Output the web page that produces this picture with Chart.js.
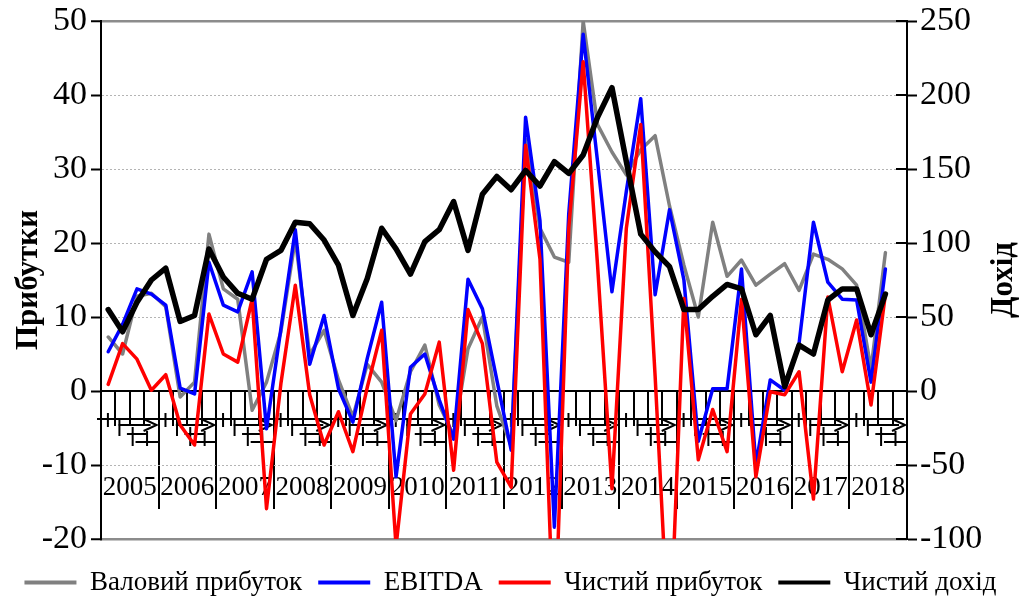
<!DOCTYPE html>
<html>
<head>
<meta charset="utf-8">
<script src="https://cdn.jsdelivr.net/npm/chart.js@4/dist/chart.umd.min.js"></script>
<style>
html,body{margin:0;padding:0;background:#fff}
</style>
</head>
<body>
<canvas id="c" width="1021" height="606"></canvas>
<script>
// years and quarters of the category axis
const years = ["2005","2006","2007","2008","2009","2010","2011","2012","2013","2014","2015","2016","2017","2018"]
const quarters = ["I","II","III","IV"]

// left axis, billions
const grossProfit = [7.3,5.0,12.8,13.2,11.4, -0.8,1.2,21.2,13.8,12.4, -2.6,1.2,8.0,20.5,4.9, 8.2,1.5,-3.5,3.6,1.2,
  -4.0,2.6,6.2,-1.9,-6.0, 5.7,10.0,-2.0,-7.5,34.0, 22.0,18.1,17.4,50.0,36.0, 32.3,29.2,32.6,34.5,25.0,
  17.0,10.0,22.8,15.5,17.7, 14.3,15.8,17.2,13.6,18.5, 17.8,16.5,14.3,3.0,18.7]
const ebitda = [5.3,9.0,13.8,13.1,11.6, 0.4,-0.4,17.4,11.6,10.7, 16.1,-5.1,8.4,21.8,3.6, 10.2,0.3,-4.2,4.4,12.0,
  -11.6,3.2,5.0,-1.2,-6.5, 15.1,11.1,1.5,-8.0,37.0, 23.0,-18.4,24.0,48.2,31.0, 13.4,27.0,39.5,13.0,24.5,
  15.0,-6.8,0.3,0.3,16.5, -10.0,1.5,0.1,6.4,22.8, 14.7,12.4,12.3,1.2,16.5]
const netProfit = [0.9,6.4,4.3,0.1,2.2, -4.6,-7.3,10.4,5.0,3.9, 12.4,-15.9,1.0,14.3,-0.5, -7.3,-2.8,-8.2,0.5,8.2,
  -21,-3.1,-0.4,6.6,-10.7, 11.0,6.4,-9.6,-13.0,33.2, 17.8,-35,22,44.5,17, -13.2,22,36,2,-36,
  12.5,-9.3,-2.5,-8.2,12.4, -11.6,-0.1,-0.5,2.6,-14.6, 12.7,2.6,9.6,-1.9,13.1]
// right axis
const netRevenue = [55,40,60,75,83, 47,51,96,77,66, 62,89,95,114,113, 102,85,51,76,110,
  96,79,101,109,128, 95,133,145,136,149, 138.5,155,147,159.5,185, 205,155,106,94,84,
  55,55,64,72,69, 38,51,3,31,25, 61.5,69,69,38,65.5]

const quarterLabels = []
years.forEach(y => quarters.forEach(q => quarterLabels.push(q + " кв. " + y)))

Chart.defaults.font.family = "'Liberation Serif', 'Times New Roman', serif"
Chart.defaults.color = "#000"

// axis decorations: garbled quarter captions, inner right ticks, right title
const axisDecor = {
  id: "axisDecor",
  beforeDatasetsDraw(chart){
    const {ctx, chartArea, scales} = chart
    const yr = scales.x2
    const y0 = scales.y.getPixelForValue(0)
    const w = (chartArea.right - chartArea.left) / years.length
    ctx.save()
    ctx.strokeStyle = "#000"
    ctx.lineWidth = 2
    years.forEach((_, i) => {
      const s = yr.getPixelForValue(i) - w/2
      ctx.beginPath()
      ctx.moveTo(s - 4, y0 + 28); ctx.lineTo(s + w - 3, y0 + 28)
      ctx.moveTo(s + w - 15, y0 + 28); ctx.lineTo(s + w - 2, y0 + 34); ctx.lineTo(s + w - 15, y0 + 40)
      ctx.moveTo(s + 0.3*w, y0 + 34); ctx.lineTo(s + w - 8, y0 + 34)
      ctx.moveTo(s + 0.45*w, y0 + 43); ctx.lineTo(s + 0.8*w, y0 + 43)
      ctx.moveTo(s + 0.6*w, y0 + 51); ctx.lineTo(s + w, y0 + 51)
      ctx.moveTo(s + 0.12*w, y0 + 22); ctx.lineTo(s + 0.12*w, y0 + 36)
      ctx.moveTo(s + 0.32*w, y0 + 28); ctx.lineTo(s + 0.32*w, y0 + 45)
      ctx.moveTo(s + 0.55*w, y0 + 36); ctx.lineTo(s + 0.55*w, y0 + 55)
      ctx.moveTo(s + 0.8*w, y0 + 40); ctx.lineTo(s + 0.8*w, y0 + 55)
      ctx.stroke()
    })
    const r = scales.y1
    r.ticks.forEach(t => {
      const py = r.getPixelForValue(t.value)
      ctx.beginPath(); ctx.moveTo(chartArea.right - 11, py); ctx.lineTo(chartArea.right, py); ctx.stroke()
    })
    ctx.restore()
  },
  afterDraw(chart){
    const {ctx, chartArea} = chart
    ctx.save()
    ctx.translate(1004, (chartArea.top + chartArea.bottom) / 2)
    ctx.rotate(-Math.PI / 2)
    ctx.font = "bold 31px 'Liberation Serif'"
    ctx.fillStyle = "#000"
    ctx.textAlign = "center"
    ctx.textBaseline = "middle"
    ctx.fillText("Дохід", 0, 0)
    ctx.restore()
  }
}

const edge = c => c.tick && (c.tick.value === 50 || c.tick.value === -20)

new Chart(document.getElementById("c"), {
  type: "line",
  data: {
    labels: quarterLabels,
    datasets: [
      {label:"Валовий прибуток", data:grossProfit, borderColor:"#808080", backgroundColor:"#808080", borderWidth:3.5, yAxisID:"y", order:3},
      {label:"EBITDA", data:ebitda, borderColor:"#0000ff", backgroundColor:"#0000ff", borderWidth:3.5, yAxisID:"y", order:2},
      {label:"Чистий прибуток", data:netProfit, borderColor:"#ff0000", backgroundColor:"#ff0000", borderWidth:3.5, yAxisID:"y", order:1},
      {label:"Чистий дохід", data:netRevenue, borderColor:"#000000", backgroundColor:"#000000", borderWidth:5.5, yAxisID:"y1", order:0}
    ]
  },
  options: {
    responsive: false,
    animation: false,
    devicePixelRatio: 1,
    layout: {padding: {top: 19, right: 0, bottom: 0, left: 0}},
    elements: {
      point: {radius: 0},
      line: {tension: 0, fill: false, borderJoinStyle: "round", borderCapStyle: "round"}
    },
    plugins: {
      tooltip: {enabled: false},
      legend: {
        position: "bottom",
        title: {display: true, text: "", padding: {top: 2, bottom: 0}, font: {size: 10}},
        labels: {
          font: {size: 27},
          color: "#000",
          boxWidth: 52,
          boxHeight: 4,
          padding: 16,
          sort: (a, b) => a.datasetIndex - b.datasetIndex,
          generateLabels: chart => Chart.defaults.plugins.legend.labels.generateLabels(chart)
            .map(l => Object.assign(l, {lineWidth: 0, fillStyle: l.strokeStyle}))
        }
      }
    },
    scales: {
      x: {
        type: "category",
        offset: true,
        position: {y: 0},
        grid: {drawOnChartArea: false, offset: true, tickLength: 34, color: "#000", lineWidth: 2},
        border: {color: "#000", width: 2},
        ticks: {display: false, autoSkip: false}
      },
      x2: {
        type: "category",
        labels: years,
        offset: true,
        position: {y: 0},
        grid: {drawOnChartArea: false, offset: true, tickLength: 118, color: "#000", lineWidth: 2},
        border: {display: false},
        ticks: {autoSkip: false, maxRotation: 0, padding: -37, font: {size: 27}, color: "#000"}
      },
      y: {
        position: "left",
        min: -20, max: 50,
        ticks: {stepSize: 10, font: {size: 34, lineHeight: 1}, color: "#000", padding: 4},
        grid: {
          color: c => edge(c) ? "#8c8c8c" : "#b4b4b4",
          lineWidth: c => edge(c) ? 2.5 : 1,
          tickColor: "#000", tickLength: 10, tickWidth: 2
        },
        border: {color: "#000", width: 2, dash: c => edge(c) ? [] : [2, 2]},
        title: {display: true, text: "Прибутки", font: {size: 31, weight: "bold"}, color: "#000", padding: {top: 10, bottom: 0}},
        afterFit: s => { s.width = 101 }
      },
      y1: {
        position: "right",
        min: -100, max: 250,
        ticks: {stepSize: 50, font: {size: 34, lineHeight: 1}, color: "#000", padding: 3},
        grid: {drawOnChartArea: false, tickColor: "#000", tickLength: 10, tickWidth: 2, color: "#000"},
        border: {color: "#000", width: 2},
        afterFit: s => { s.width = 114 }
      }
    }
  },
  plugins: [axisDecor]
})
</script>
</body>
</html>
